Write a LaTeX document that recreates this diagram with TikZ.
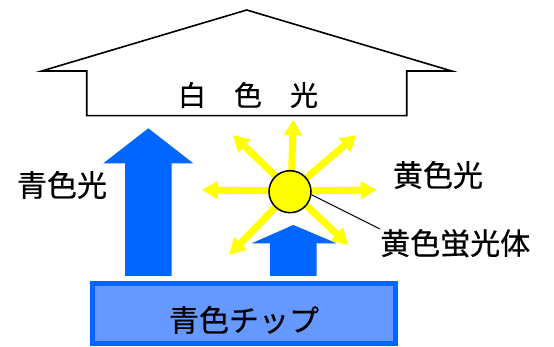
\documentclass[tikz,border=0pt]{standalone}
\usepackage{fontspec}
\setmainfont{Noto Sans CJK JP}[FakeBold=0.6]
\usetikzlibrary{arrows.meta}
\definecolor{blu}{HTML}{0066FF}
\definecolor{chipfill}{HTML}{6699FF}
\definecolor{ylw}{HTML}{FFFF00}
\tikzset{
  lbl/.style={inner sep=0pt, font=\fontsize{30}{30}\selectfont},
  bluearrow/.style={fill=blu, draw=none},
  rayarrow/.style={draw=ylw, line width=7pt, -{Triangle[width=17pt,length=16pt]}},
}
\begin{document}
\begin{tikzpicture}[x=1pt,y=-1pt]
\useasboundingbox (0,0) rectangle (554,347);
% house
\draw[line width=1.6pt, line join=miter] (41.7,71) -- (246.7,10) -- (451.7,71) -- (406.7,71) -- (406.7,115.7) -- (86.7,115.7) -- (86.7,71) -- cycle;
\node[lbl, font=\fontsize{28}{28}\selectfont] (white) at (248,95) {白　色　光};
% big blue arrow
\fill[bluearrow] (125,276) -- (125,163.3) -- (103.3,163.3) -- (148.3,128.3) -- (193.3,163.3) -- (171.7,163.3) -- (171.7,276) -- cycle;
\node[lbl] (bluelight) at (62,185) {青色光};
% small blue arrow
\fill[bluearrow] (270,276) -- (270,243.3) -- (251.7,243.3) -- (293.3,225) -- (336.7,243.3) -- (316.7,243.3) -- (316.7,276) -- cycle;
% yellow rays
\coordinate (c) at (291,191);
\coordinate (tU) at (293.3,119.3);
\coordinate (tL) at (201.7,190);
\coordinate (tR) at (376.7,190);
\coordinate (tUL) at (233,135);
\coordinate (tUR) at (356.7,135);
\coordinate (tDL) at (229.3,255);
\coordinate (tDR) at (348.3,245);
\foreach \t in {tU,tL,tR,tUL,tUR,tDL,tDR}{\draw[rayarrow] (c) -- (\t);}
% phosphor
\node[circle, draw=black, fill=ylw, line width=1.5pt, minimum width=40pt, minimum height=42pt, inner sep=0pt] (ph) at (290,191.7) {};
\node[lbl] (yellowlight) at (438,175) {黄色光};
\node[lbl, anchor=west] (fluor) at (380,243.3) {黄色蛍光体};
\draw[line width=1pt] (ph.-8) -- (fluor.north west);
% chip
\draw[draw=blu, fill=chipfill, line width=5pt] (92.5,283.5) rectangle (395.8,343.5);
\node[lbl] (chip) at (244,320) {青色チップ};
\end{tikzpicture}
\end{document}
